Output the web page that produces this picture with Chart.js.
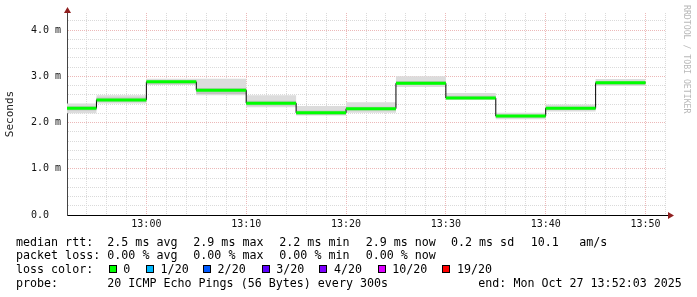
<!DOCTYPE html>
<html>
<head>
<meta charset="utf-8">
<script src="https://cdn.jsdelivr.net/npm/chart.js@4/dist/chart.umd.min.js"></script>
<style>
  body { margin: 0; background: #fff; }
  #wrap { position: relative; width: 697px; height: 297px; }
  canvas { position: absolute; left: 0; top: 0; }
  .leg { position: absolute; font: 11.66px "DejaVu Sans Mono", monospace; white-space: pre; color: #000; line-height: 14px; }
  .box { position: absolute; width: 6px; height: 6px; border: 1px solid #000; }
  .mark { position: absolute; left: 682px; top: 5px; writing-mode: vertical-rl; font: 8.2px "DejaVu Sans Mono", monospace; color: #b8b8b8; white-space: pre; }
</style>
</head>
<body>
<div id="wrap">
  <canvas id="rtt" width="697" height="297"></canvas>
  <div class="mark">RRDTOOL / TOBI OETIKER</div>
</div>
<script>
// 5 minute slots, values in ms
const graphStart = "12:52:03";
const graphEnd = "13:52:03";
const slotEnd = ["12:55", "13:00", "13:05", "13:10", "13:15", "13:20", "13:25", "13:30", "13:35", "13:40", "13:45", "13:50"];
const medianRtt = [2.31, 2.49, 2.88, 2.70, 2.42, 2.21, 2.30, 2.85, 2.53, 2.14, 2.31, 2.86];
const smokeMax = [2.41, 2.59, 2.95, 2.95, 2.59, 2.36, 2.44, 3.00, 2.64, 2.21, 2.39, 2.94];
const smokeHi = [2.35, 2.54, 2.91, 2.75, 2.47, 2.26, 2.34, 2.90, 2.58, 2.17, 2.34, 2.90];
const smokeLo = [2.26, 2.45, 2.83, 2.62, 2.37, 2.17, 2.26, 2.81, 2.51, 2.10, 2.27, 2.82];
const smokeMin = [2.20, 2.41, 2.81, 2.59, 2.33, 2.15, 2.21, 2.77, 2.49, 2.07, 2.24, 2.79];

const xMajor = ["13:00", "13:10", "13:20", "13:30", "13:40", "13:50"];
const yMajor = [0, 1, 2, 3, 4];
const yMajorLabels = ["0.0  ", "1.0 m", "2.0 m", "3.0 m", "4.0 m"];
const yTop = 4.37;

const rttStats = ["2.5 ms avg", "2.9 ms max", "2.2 ms min", "2.9 ms now", "0.2 ms sd", "10.1", "am/s"];
const lossStats = ["0.00 % avg", "0.00 % max", "0.00 % min", "0.00 % now"];
const lossLabels = ["0", "1/20", "2/20", "3/20", "4/20", "10/20", "19/20"];
const lossColors = ["#00ff00", "#00b8ff", "#0059ff", "#5e00ff", "#7e00ff", "#dd00ff", "#ff0000"];
const probeText = "20 ICMP Echo Pings (56 Bytes) every 300s";
const endText = "end: Mon Oct 27 13:52:03 2025";

function toMin(t) {
  const p = t.split(":").map(Number);
  return p[0] * 60 + p[1] + (p[2] || 0) / 60;
}

const t0 = toMin(graphStart);

function stepLine(vals) {
  const pts = [{ x: t0, y: vals[0] }];
  slotEnd.forEach((t, i) => pts.push({ x: toMin(t), y: vals[i] }));
  return pts;
}

// horizontal pieces only, broken at each slot edge
let medianPieces = [];
slotEnd.forEach((t, i) => {
  const from = i == 0 ? t0 : toMin(slotEnd[i - 1]);
  medianPieces.push({ x: from, y: medianRtt[i] }, { x: toMin(t), y: medianRtt[i] }, { x: toMin(t), y: null });
});

const xMajorMin = xMajor.map(toMin);

// legend text, rrdtool style columns
const wrap = document.getElementById("wrap");
function put(text, x, y) {
  const d = document.createElement("div");
  d.className = "leg";
  d.style.left = x + "px";
  d.style.top = y + "px";
  d.textContent = text;
  wrap.appendChild(d);
}
const cols = [107.3, 193.3, 279.3, 365.7, 451, 530.7, 579.3];
put("median rtt:", 16, 234.7);
rttStats.forEach((s, i) => put(s, cols[i], 234.7));
put("packet loss:", 16, 248.3);
lossStats.forEach((s, i) => put(s, cols[i], 248.3));
put("loss color:", 16, 262.3);
const boxX = [108.7, 146, 203, 261.7, 319.3, 377.7, 442.3];
lossLabels.forEach((lab, i) => {
  const b = document.createElement("div");
  b.className = "box";
  b.style.left = boxX[i] + "px";
  b.style.top = "265.3px";
  b.style.background = lossColors[i];
  wrap.appendChild(b);
  put(lab, boxX[i] + 14.6, 262.3);
});
put("probe:", 16, 276.3);
put(probeText, 107.3, 276.3);
put(endText, 478.3, 276.3);

const isMajorY = (v) => Math.abs(v - Math.round(v)) < 1e-6;

const arrows = {
  id: "arrows",
  afterDraw(chart) {
    const { ctx, chartArea: a } = chart;
    ctx.save();
    ctx.fillStyle = "#902020";
    ctx.strokeStyle = "#000";
    ctx.lineWidth = 1;
    ctx.beginPath();
    ctx.moveTo(a.right, a.bottom + 0.5);
    ctx.lineTo(a.right + 3, a.bottom + 0.5);
    ctx.stroke();
    ctx.beginPath();
    ctx.moveTo(a.left + 0.5 - 3.5, a.top);
    ctx.lineTo(a.left + 0.5 + 3.5, a.top);
    ctx.lineTo(a.left + 0.5, a.top - 6);
    ctx.fill();
    ctx.beginPath();
    ctx.moveTo(a.right + 2, a.bottom + 0.5 - 3.5);
    ctx.lineTo(a.right + 2, a.bottom + 0.5 + 3.5);
    ctx.lineTo(a.right + 8, a.bottom + 0.5);
    ctx.fill();
    ctx.restore();
  }
};

const ctx = document.getElementById("rtt").getContext("2d");

const rttChart = new Chart(ctx, {
  type: "line",
  data: {
    datasets: [
      {
        label: "median",
        data: medianPieces,
        borderColor: "#00ff00",
        borderWidth: 3,
        borderCapStyle: "butt",
        spanGaps: false,
        order: 0
      },
      {
        label: "median step",
        data: stepLine(medianRtt),
        borderColor: "#000",
        borderWidth: 1,
        stepped: "after",
        order: 1
      },
      {
        label: "smoke hi",
        data: stepLine(smokeHi),
        borderWidth: 0,
        stepped: "after",
        backgroundColor: "#c4c4c4",
        fill: "+1",
        order: 2
      },
      {
        label: "smoke lo",
        data: stepLine(smokeLo),
        borderWidth: 0,
        stepped: "after",
        order: 3
      },
      {
        label: "smoke max",
        data: stepLine(smokeMax),
        borderWidth: 0,
        stepped: "after",
        backgroundColor: "#dcdcdc",
        fill: "+1",
        order: 4
      },
      {
        label: "smoke min",
        data: stepLine(smokeMin),
        borderWidth: 0,
        stepped: "after",
        order: 5
      }
    ]
  },
  options: {
    responsive: false,
    animation: false,
    layout: { padding: { left: 0, right: 31, top: 13, bottom: 0 } },
    elements: { point: { radius: 0 } },
    plugins: {
      legend: { display: false },
      tooltip: { enabled: false }
    },
    scales: {
      x: {
        type: "linear",
        min: t0,
        max: toMin(graphEnd),
        afterFit: (s) => { s.height = 82; },
        afterBuildTicks: (s) => {
          let t = [];
          for (let m = Math.ceil(t0 / 2) * 2; m <= toMin(graphEnd); m += 2) t.push({ value: m });
          s.ticks = t;
        },
        ticks: {
          autoSkip: false,
          maxRotation: 0,
          padding: 3,
          color: "#111",
          font: { family: "'DejaVu Sans Mono', monospace", size: 10 },
          callback: (v) => {
            const i = xMajorMin.indexOf(v);
            return i >= 0 ? xMajor[i] : "";
          }
        },
        grid: {
          drawTicks: false,
          color: (c) => (c.tick && xMajorMin.includes(c.tick.value) ? "#ecb8b8" : "#dadada")
        },
        border: { color: "#000", dash: [1, 1] }
      },
      y: {
        min: 0,
        max: yTop,
        afterFit: (s) => { s.width = 67; },
        afterBuildTicks: (s) => {
          let t = [];
          for (let i = 0; i * 0.2 <= yTop; i++) t.push({ value: Math.round(i * 2) / 10 });
          s.ticks = t;
        },
        ticks: {
          autoSkip: false,
          padding: 6,
          color: "#111",
          font: { family: "'DejaVu Sans Mono', monospace", size: 10 },
          callback: (v) => {
            const i = yMajor.findIndex((m) => Math.abs(m - v) < 1e-6);
            return i >= 0 ? yMajorLabels[i] : "";
          }
        },
        grid: {
          drawTicks: false,
          color: (c) => (c.tick && isMajorY(c.tick.value) ? "#ecb8b8" : "#dadada")
        },
        border: { color: "#444", dash: [1, 1] },
        title: {
          display: true,
          text: "Seconds",
          color: "#222",
          padding: { top: 4, bottom: 0 },
          font: { family: "'DejaVu Sans Mono', monospace", size: 11 }
        }
      }
    }
  },
  plugins: [arrows]
});
</script>
</body>
</html>
